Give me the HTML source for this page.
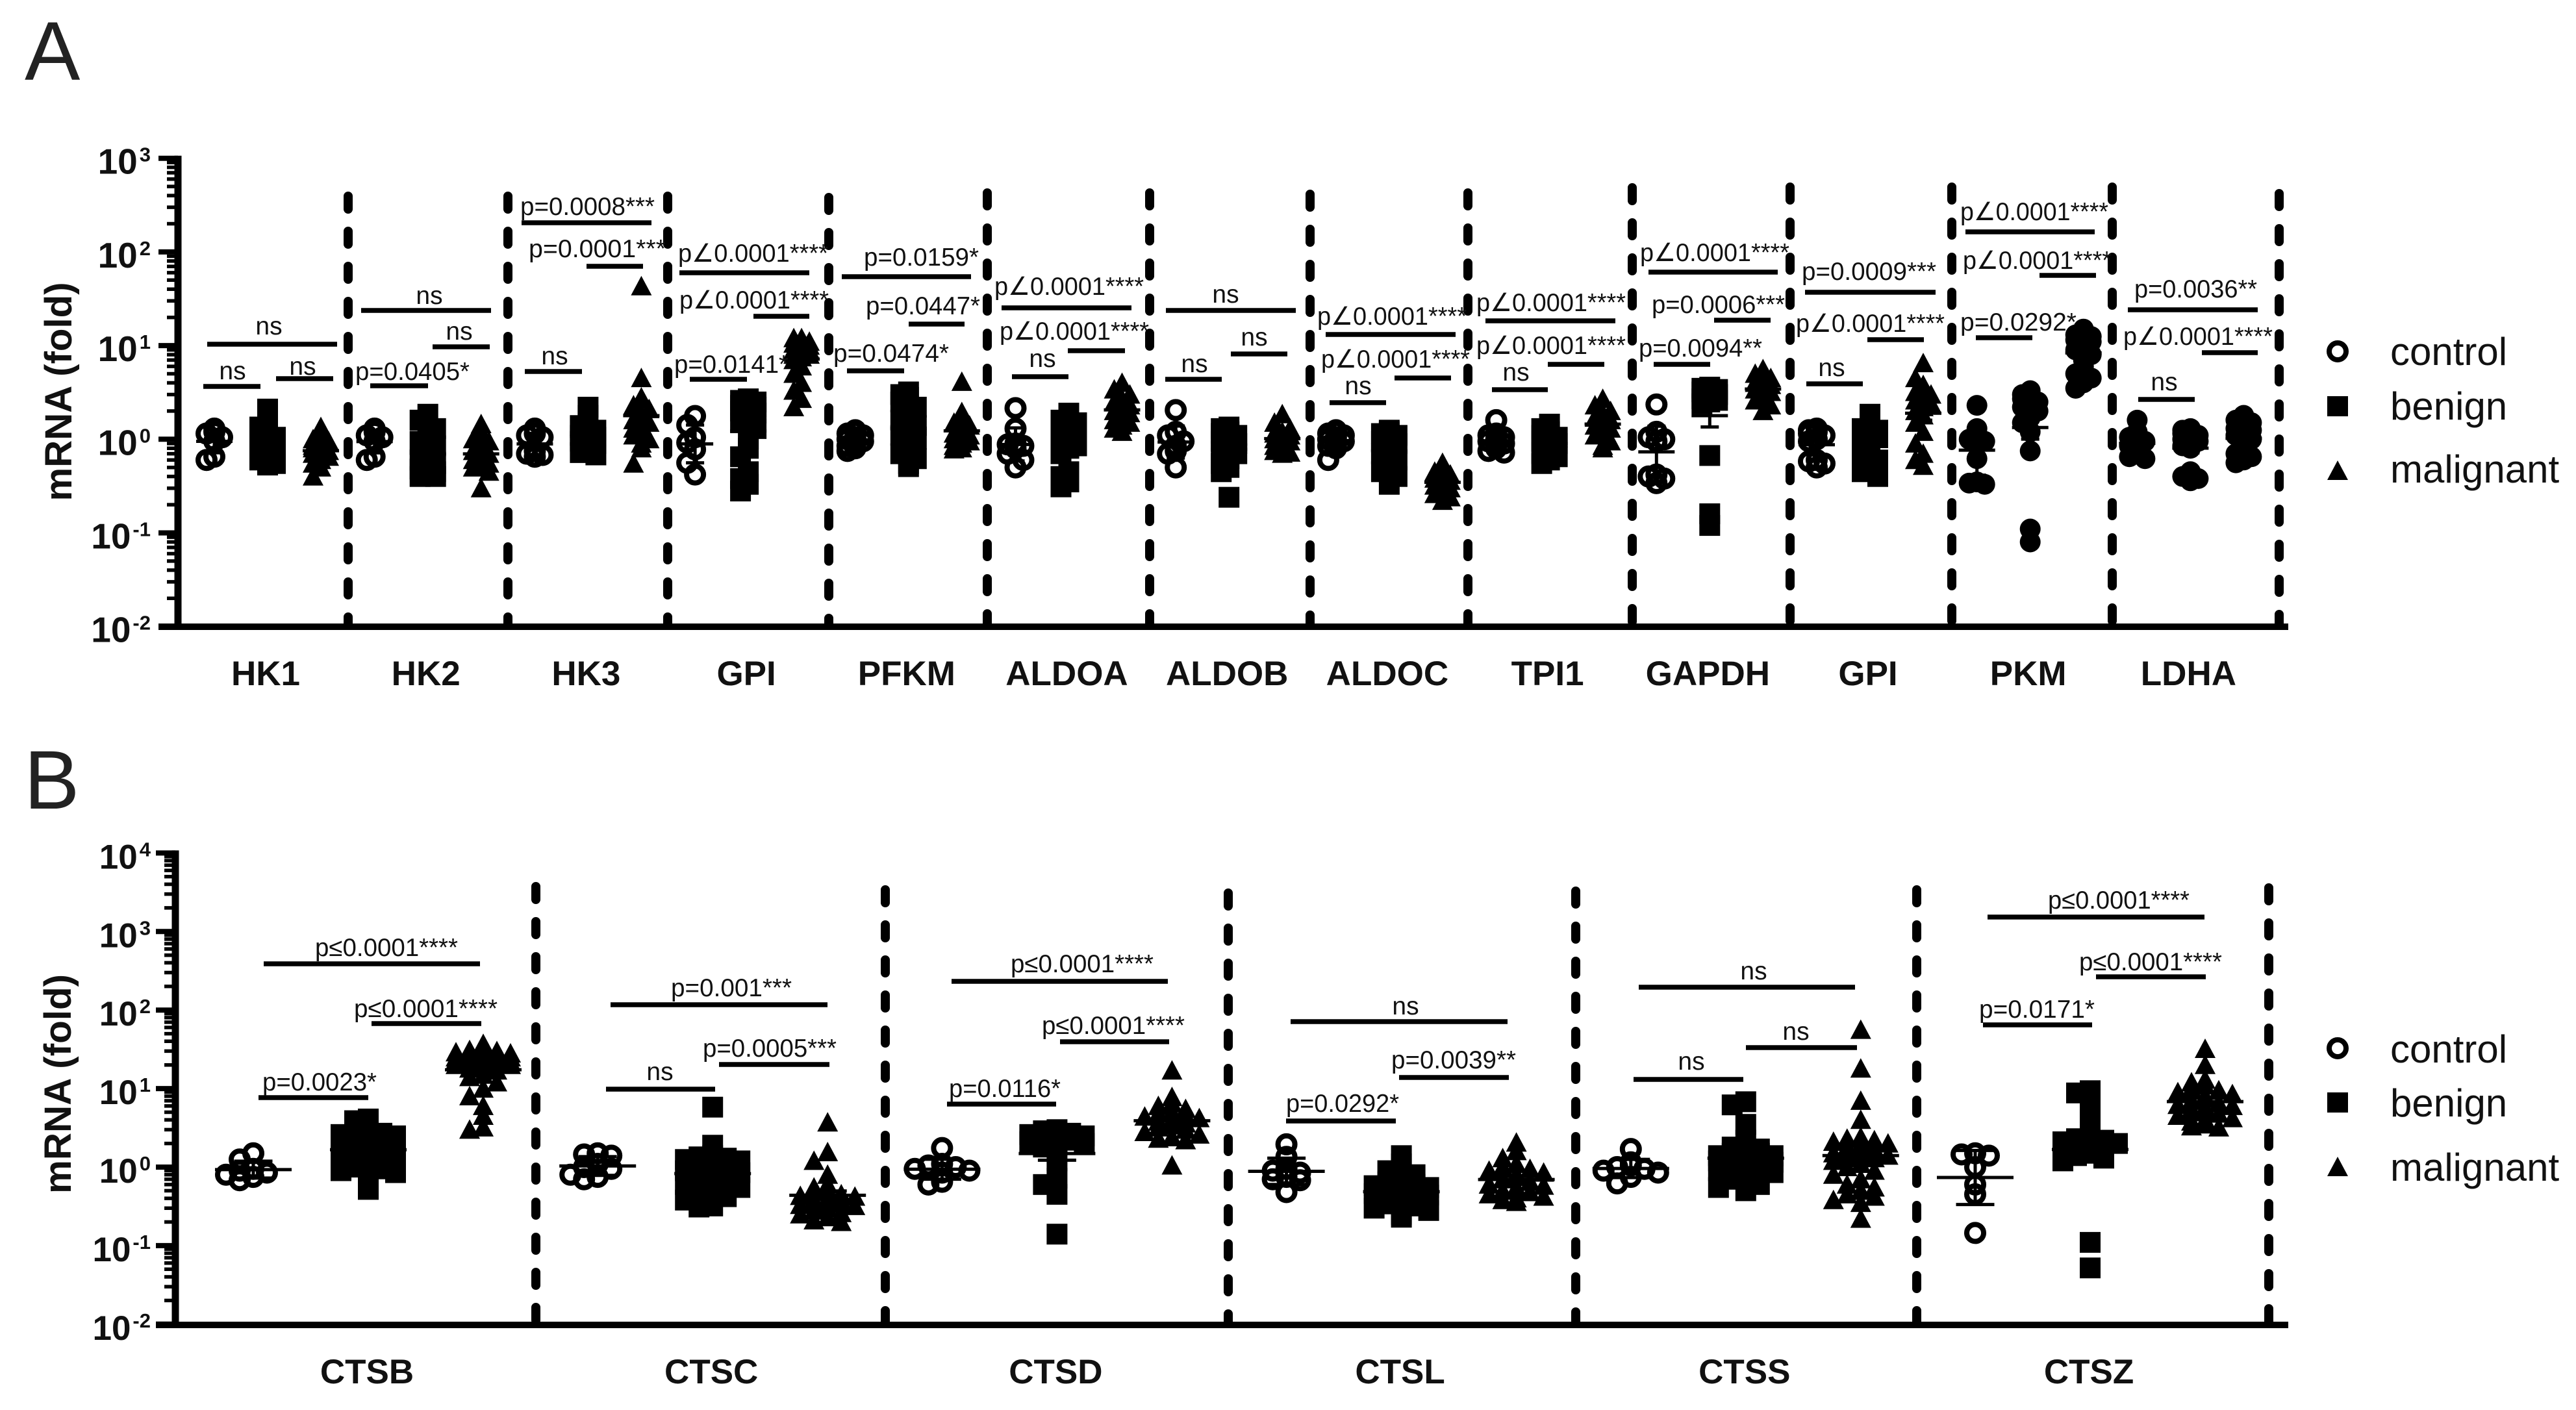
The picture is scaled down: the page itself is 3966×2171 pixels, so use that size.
<!DOCTYPE html>
<html lang="en">
<head>
<meta charset="utf-8">
<title>mRNA fold change: glycolysis genes and cathepsins</title>
<style>
html,body{margin:0;padding:0;background:#fff}
svg{display:block;font-family:"Liberation Sans","DejaVu Sans",sans-serif}
.br{stroke:#000;stroke-width:7.5;fill:none}
.an{font-size:39px;fill:#111}
.mid{text-anchor:middle}
.lg{font-size:60px;fill:#111}
.letter{font-size:128px;fill:#222}
.ytitle{font-size:58px;font-weight:700;fill:#111;text-anchor:middle}
</style>
</head>
<body>
<svg id="figure" width="3966" height="2171" viewBox="0 0 3966 2171" xmlns="http://www.w3.org/2000/svg">
<rect width="3966" height="2171" fill="#fff"/>
<text class="letter" x="38" y="123">A</text>
<text class="letter" x="37" y="1245">B</text>
<text class="ytitle" transform="translate(110,603) rotate(-90)" textLength="337" lengthAdjust="spacingAndGlyphs">mRNA (fold)</text>
<text class="ytitle" transform="translate(109,1669) rotate(-90)" textLength="338" lengthAdjust="spacingAndGlyphs">mRNA (fold)</text>
<g id="panelA"></g>
<g id="panelB"></g>

<g>
<g>
<line class="br" x1="319" x2="519" y1="530" y2="530"/><text class="an mid" x="414" y="515">ns</text>
<line class="br" x1="313" x2="401" y1="595" y2="595"/><text class="an mid" x="358" y="584">ns</text>
<line class="br" x1="425" x2="513" y1="583" y2="583"/><text class="an mid" x="466" y="577">ns</text>
</g>
<g>
<line class="br" x1="556" x2="756" y1="478" y2="478"/><text class="an mid" x="661" y="468">ns</text>
<line class="br" x1="666" x2="754" y1="534" y2="534"/><text class="an mid" x="707" y="523">ns</text>
<line class="br" x1="570" x2="659" y1="594" y2="594"/><text class="an" x="547" y="585" textLength="176" lengthAdjust="spacingAndGlyphs">p=0.0405*</text>
</g>
<g>
<line class="br" x1="803" x2="1003" y1="343" y2="343"/><text class="an" x="801" y="331" textLength="207" lengthAdjust="spacingAndGlyphs">p=0.0008***</text>
<line class="br" x1="903" x2="990" y1="410" y2="410"/><text class="an" x="814" y="396" textLength="211" lengthAdjust="spacingAndGlyphs">p=0.0001***</text>
<line class="br" x1="808" x2="896" y1="572" y2="572"/><text class="an mid" x="854" y="561">ns</text>
</g>
<g>
<line class="br" x1="1046" x2="1246" y1="420" y2="420"/><text class="an" x="1044" y="403" textLength="231" lengthAdjust="spacingAndGlyphs">p∠0.0001****</text>
<line class="br" x1="1160" x2="1246" y1="487" y2="487"/><text class="an" x="1046" y="475" textLength="230" lengthAdjust="spacingAndGlyphs">p∠0.0001****</text>
<line class="br" x1="1062" x2="1150" y1="584" y2="584"/><text class="an" x="1038" y="574" textLength="176" lengthAdjust="spacingAndGlyphs">p=0.0141*</text>
</g>
<g>
<line class="br" x1="1296" x2="1495" y1="426" y2="426"/><text class="an" x="1330" y="409" textLength="177" lengthAdjust="spacingAndGlyphs">p=0.0159*</text>
<line class="br" x1="1399" x2="1485" y1="499" y2="499"/><text class="an" x="1333" y="484" textLength="176" lengthAdjust="spacingAndGlyphs">p=0.0447*</text>
<line class="br" x1="1304" x2="1392" y1="571" y2="571"/><text class="an" x="1283" y="557" textLength="178" lengthAdjust="spacingAndGlyphs">p=0.0474*</text>
</g>
<g>
<line class="br" x1="1542" x2="1742" y1="474" y2="474"/><text class="an" x="1531" y="454" textLength="230" lengthAdjust="spacingAndGlyphs">p∠0.0001****</text>
<line class="br" x1="1644" x2="1732" y1="540" y2="540"/><text class="an" x="1539" y="523" textLength="230" lengthAdjust="spacingAndGlyphs">p∠0.0001****</text>
<line class="br" x1="1558" x2="1645" y1="580" y2="580"/><text class="an mid" x="1605" y="565">ns</text>
</g>
<g>
<line class="br" x1="1795" x2="1995" y1="478" y2="478"/><text class="an mid" x="1887" y="466">ns</text>
<line class="br" x1="1895" x2="1982" y1="545" y2="545"/><text class="an mid" x="1931" y="532">ns</text>
<line class="br" x1="1794" x2="1881" y1="584" y2="584"/><text class="an mid" x="1839" y="573">ns</text>
</g>
<g>
<line class="br" x1="2041" x2="2241" y1="515" y2="515"/><text class="an" x="2028" y="500" textLength="230" lengthAdjust="spacingAndGlyphs">p∠0.0001****</text>
<line class="br" x1="2147" x2="2234" y1="582" y2="582"/><text class="an" x="2034" y="566" textLength="229" lengthAdjust="spacingAndGlyphs">p∠0.0001****</text>
<line class="br" x1="2047" x2="2134" y1="620" y2="620"/><text class="an mid" x="2091" y="607">ns</text>
</g>
<g>
<line class="br" x1="2287" x2="2487" y1="494" y2="494"/><text class="an" x="2273" y="479" textLength="230" lengthAdjust="spacingAndGlyphs">p∠0.0001****</text>
<line class="br" x1="2383" x2="2470" y1="561" y2="561"/><text class="an" x="2273" y="545" textLength="230" lengthAdjust="spacingAndGlyphs">p∠0.0001****</text>
<line class="br" x1="2297" x2="2383" y1="600" y2="600"/><text class="an mid" x="2334" y="586">ns</text>
</g>
<g>
<line class="br" x1="2538" x2="2737" y1="419" y2="419"/><text class="an" x="2525" y="402" textLength="230" lengthAdjust="spacingAndGlyphs">p∠0.0001****</text>
<line class="br" x1="2639" x2="2726" y1="493" y2="493"/><text class="an" x="2543" y="482" textLength="205" lengthAdjust="spacingAndGlyphs">p=0.0006***</text>
<line class="br" x1="2546" x2="2633" y1="561" y2="561"/><text class="an" x="2523" y="549" textLength="190" lengthAdjust="spacingAndGlyphs">p=0.0094**</text>
</g>
<g>
<line class="br" x1="2779" x2="2980" y1="450" y2="450"/><text class="an" x="2774" y="431" textLength="207" lengthAdjust="spacingAndGlyphs">p=0.0009***</text>
<line class="br" x1="2875" x2="2962" y1="523" y2="523"/><text class="an" x="2765" y="511" textLength="229" lengthAdjust="spacingAndGlyphs">p∠0.0001****</text>
<line class="br" x1="2781" x2="2868" y1="591" y2="591"/><text class="an mid" x="2820" y="579">ns</text>
</g>
<g>
<line class="br" x1="3026" x2="3225" y1="357" y2="357"/><text class="an" x="3018" y="339" textLength="228" lengthAdjust="spacingAndGlyphs">p∠0.0001****</text>
<line class="br" x1="3140" x2="3227" y1="424" y2="424"/><text class="an" x="3022" y="414" textLength="229" lengthAdjust="spacingAndGlyphs">p∠0.0001****</text>
<line class="br" x1="3042" x2="3129" y1="520" y2="520"/><text class="an" x="3018" y="509" textLength="179" lengthAdjust="spacingAndGlyphs">p=0.0292*</text>
</g>
<g>
<line class="br" x1="3276" x2="3476" y1="477" y2="477"/><text class="an" x="3286" y="458" textLength="189" lengthAdjust="spacingAndGlyphs">p=0.0036**</text>
<line class="br" x1="3390" x2="3476" y1="543" y2="543"/><text class="an" x="3269" y="531" textLength="230" lengthAdjust="spacingAndGlyphs">p∠0.0001****</text>
<line class="br" x1="3292" x2="3379" y1="615" y2="615"/><text class="an mid" x="3332" y="601">ns</text>
</g>
</g>

<g>
<g>
<line class="br" x1="406" x2="739" y1="1484" y2="1484"/><text class="an" x="485" y="1472" textLength="220" lengthAdjust="spacingAndGlyphs">p≤0.0001****</text>
<line class="br" x1="572" x2="741" y1="1576" y2="1576"/><text class="an" x="545" y="1566" textLength="221" lengthAdjust="spacingAndGlyphs">p≤0.0001****</text>
<line class="br" x1="398" x2="567" y1="1690" y2="1690"/><text class="an" x="404" y="1679" textLength="176" lengthAdjust="spacingAndGlyphs">p=0.0023*</text>
</g>
<g>
<line class="br" x1="940" x2="1274" y1="1547" y2="1547"/><text class="an" x="1033" y="1534" textLength="186" lengthAdjust="spacingAndGlyphs">p=0.001***</text>
<line class="br" x1="1107" x2="1277" y1="1639" y2="1639"/><text class="an" x="1082" y="1627" textLength="206" lengthAdjust="spacingAndGlyphs">p=0.0005***</text>
<line class="br" x1="933" x2="1101" y1="1677" y2="1677"/><text class="an mid" x="1016" y="1663">ns</text>
</g>
<g>
<line class="br" x1="1465" x2="1798" y1="1511" y2="1511"/><text class="an" x="1556" y="1497" textLength="220" lengthAdjust="spacingAndGlyphs">p≤0.0001****</text>
<line class="br" x1="1632" x2="1800" y1="1604" y2="1604"/><text class="an" x="1604" y="1592" textLength="220" lengthAdjust="spacingAndGlyphs">p≤0.0001****</text>
<line class="br" x1="1458" x2="1626" y1="1700" y2="1700"/><text class="an" x="1461" y="1689" textLength="172" lengthAdjust="spacingAndGlyphs">p=0.0116*</text>
</g>
<g>
<line class="br" x1="1987" x2="2321" y1="1573" y2="1573"/><text class="an mid" x="2164" y="1562">ns</text>
<line class="br" x1="2154" x2="2323" y1="1659" y2="1659"/><text class="an" x="2142" y="1645" textLength="192" lengthAdjust="spacingAndGlyphs">p=0.0039**</text>
<line class="br" x1="1980" x2="2149" y1="1726" y2="1726"/><text class="an" x="1980" y="1712" textLength="174" lengthAdjust="spacingAndGlyphs">p=0.0292*</text>
</g>
<g>
<line class="br" x1="2523" x2="2856" y1="1520" y2="1520"/><text class="an mid" x="2700" y="1508">ns</text>
<line class="br" x1="2688" x2="2859" y1="1613" y2="1613"/><text class="an mid" x="2765" y="1601">ns</text>
<line class="br" x1="2515" x2="2684" y1="1662" y2="1662"/><text class="an mid" x="2604" y="1647">ns</text>
</g>
<g>
<line class="br" x1="3060" x2="3394" y1="1412" y2="1412"/><text class="an" x="3153" y="1399" textLength="218" lengthAdjust="spacingAndGlyphs">p≤0.0001****</text>
<line class="br" x1="3227" x2="3396" y1="1504" y2="1504"/><text class="an" x="3201" y="1494" textLength="220" lengthAdjust="spacingAndGlyphs">p≤0.0001****</text>
<line class="br" x1="3053" x2="3221" y1="1578" y2="1578"/><text class="an" x="3047" y="1567" textLength="178" lengthAdjust="spacingAndGlyphs">p=0.0171*</text>
</g>
</g>

<g>
<g><circle cx="3599" cy="541" r="13" fill="none" stroke="#000" stroke-width="8"/><text class="lg" x="3680" y="562">control</text></g>
<g><rect x="3583" y="610" width="32" height="31"/><text class="lg" x="3680" y="646">benign</text></g>
<g><polygon points="3599,709 3615,739 3583,739"/><text class="lg" x="3680" y="743">malignant</text></g>
</g>
<g>
<g><circle cx="3599" cy="1614" r="13" fill="none" stroke="#000" stroke-width="8"/><text class="lg" x="3680" y="1636">control</text></g>
<g><rect x="3583" y="1682" width="32" height="31"/><text class="lg" x="3680" y="1719">benign</text></g>
<g><polygon points="3599,1781 3615,1811 3583,1811"/><text class="lg" x="3680" y="1818">malignant</text></g>
</g>
</svg>

<script>
/* ---- Panel A data: fold values, one sub-array per gene ---- */
const panelAGenes = ['HK1','HK2','HK3','GPI','PFKM','ALDOA','ALDOB','ALDOC','TPI1','GAPDH','GPI','PKM','LDHA'];
const panelATickExponents = [-2,-1,0,1,2,3];
const panelAControl = [
 [1.3,1.2,1.15,1.05,0.95,0.65,0.6],
 [1.3,1.2,1.1,1.05,0.95,0.65,0.6],
 [1.3,1.15,1.1,1.05,0.75,0.7,0.68,0.65],
 [1.77,1.42,1.05,0.92,0.78,0.56,0.42],
 [1.25,1.2,1.15,1.1,1.05,1,0.95,0.9,0.85,0.8,0.75],
 [2.15,1.3,0.9,0.88,0.85,0.8,0.7,0.6,0.5],
 [2.05,1.2,1.1,0.95,0.85,0.75,0.7,0.5],
 [1.25,1.2,1.15,1.1,1.05,1,0.95,0.9,0.85,0.8,0.6],
 [1.6,1.15,1.1,1.05,1,0.95,0.9,0.85,0.8,0.75,0.72],
 [2.35,1.2,1.05,1,0.95,0.42,0.4,0.38,0.34],
 [1.3,1.25,1.2,1.15,1.1,1,0.95,0.6,0.58,0.55,0.5],
 [2.3,1.3,1.1,1,0.95,0.9,0.62,0.35,0.34,0.33],
 [1.6,1.2,1.05,0.95,0.9,0.85,0.7,0.65,0.62]
];
const panelABenign = [
 [2.1,1.7,1.35,1.2,1.1,1.05,1,0.95,0.9,0.85,0.8,0.75,0.7,0.65,0.6,0.55,0.53],
 [1.85,1.6,1.3,1.05,0.95,0.85,0.7,0.6,0.55,0.5,0.48,0.45,0.42,0.4,0.4],
 [2.2,1.8,1.4,1.25,1.15,1.1,1.05,1,0.95,0.9,0.85,0.8,0.72,0.68],
 [2.7,2.6,2.5,2.4,2.3,2.2,2.1,2,1.9,1.7,1.5,1.3,1,0.8,0.65,0.45,0.38,0.33,0.28],
 [3.2,3,2.8,2.5,2.2,2,1.8,1.6,1.4,1.3,1.2,1.1,1,0.9,0.8,0.7,0.62,0.55,0.51],
 [1.9,1.8,1.6,1.5,1.4,1.3,1.2,1.1,1,0.95,0.9,0.85,0.8,0.7,0.45,0.4,0.35,0.31],
 [1.35,1.3,1.2,1.15,1.1,1,0.95,0.9,0.85,0.8,0.75,0.7,0.62,0.55,0.5,0.45,0.24],
 [1.25,1.2,1.15,1.1,1,0.95,0.9,0.85,0.8,0.7,0.6,0.5,0.45,0.4,0.33],
 [1.45,1.3,1.2,1.1,1.05,1,0.95,0.9,0.85,0.8,0.7,0.65,0.6,0.55],
 [3.6,3.5,3.4,3.3,3.2,3,2.9,2.8,2.7,2.6,2.5,2.4,0.67,0.16,0.12],
 [1.85,1.3,1.25,1.2,1.15,1.1,1,0.9,0.8,0.7,0.6,0.55,0.5,0.45,0.4],
 [3.3,3,2.8,2.7,2.5,2.4,2.2,2,1.9,1.7,1.5,1.2,0.75,0.11,0.08],
 [1.3,1.25,1.2,1.15,1.1,1.05,1,0.95,0.9,0.85,0.8,0.45,0.4,0.38,0.36]
];
const panelAMalignant = [
 [1.35,1.1,1,0.95,0.9,0.85,0.8,0.8,0.75,0.7,0.7,0.65,0.6,0.55,0.5,0.4],
 [1.45,1.2,1,0.95,0.85,0.8,0.75,0.7,0.65,0.6,0.55,0.52,0.5,0.45,0.3],
 [43,4.5,2.8,2.3,2.1,1.9,1.7,1.6,1.5,1.4,1.3,1.2,1.1,1,0.9,0.8,0.55],
 [12,12,11,11,10.5,10,10,9.5,9,9,8.5,8,8,7.5,7,6,5,4,3.3,2.7,2.2],
 [4.1,1.95,1.7,1.5,1.4,1.3,1.2,1.15,1.1,1.05,1,0.95,0.9,0.85,0.8,0.78],
 [4,3.4,3,2.7,2.5,2.3,2.2,2,1.9,1.8,1.6,1.5,1.4,1.3,1.2],
 [1.85,1.5,1.3,1.2,1.15,1.1,1.05,1,0.95,0.9,0.85,0.8,0.75,0.72,0.7],
 [0.56,0.5,0.45,0.42,0.4,0.38,0.36,0.34,0.32,0.3,0.28,0.26,0.24,0.22],
 [2.7,2.3,2,1.9,1.8,1.7,1.6,1.5,1.4,1.3,1.2,1.1,0.95,0.85,0.8],
 [5.6,5,4.5,4.2,4,3.8,3.6,3.4,3.2,3,2.8,2.6,2.3,2],
 [6.5,4.5,3.8,3.2,3,2.8,2.6,2.4,2.2,2,1.8,1.5,1.2,0.9,0.7,0.6,0.52],
 [15,14,13,12.5,12,11.5,11,10,9.5,9,8,7,6,5,4.5,4,3.5],
 [1.8,1.6,1.5,1.4,1.3,1.25,1.2,1.1,1,0.9,0.8,0.7,0.65,0.6,0.56]
];

/* ---- Panel B data ---- */
const panelBGenes = ['CTSB','CTSC','CTSD','CTSL','CTSS','CTSZ'];
const panelBTickExponents = [-2,-1,0,1,2,3,4];
const panelBControl = [
 [1.5,1.25,0.95,0.9,0.85,0.8,0.75,0.68],
 [1.5,1.45,1.4,1.1,1,0.95,0.8,0.75,0.7],
 [1.75,1.1,1.05,1,0.95,0.9,0.85,0.65,0.6],
 [1.95,1.35,0.95,0.9,0.85,0.75,0.7,0.68,0.48],
 [1.7,1.15,1.05,1,0.95,0.9,0.85,0.75,0.62],
 [1.5,1.45,1.4,1,0.6,0.45,0.145]
];
const panelBBenign = [
 [4.1,3.9,3,2.8,2.7,2.6,2.5,2.4,2.3,2.2,2,1.9,1.8,1.6,1.5,1.4,1.3,1.2,1.1,1,0.95,0.9,0.85,0.8,0.52],
 [5.8,1.9,1.4,1.35,1.3,1.25,1.2,1.1,1,0.95,0.9,0.85,0.8,0.75,0.7,0.65,0.6,0.55,0.5,0.45,0.42,0.38,0.32,0.31],
 [3,2.9,2.7,2.6,2.5,2.4,2.3,2.2,2.1,2,1.9,1.8,1.2,0.72,0.6,0.45,0.14],
 [1.4,1.1,0.9,0.8,0.7,0.65,0.6,0.58,0.55,0.52,0.5,0.48,0.46,0.44,0.42,0.4,0.38,0.36,0.34,0.32,0.3,0.28,0.25,0.23],
 [6.8,6.2,3.5,2.2,1.8,1.7,1.6,1.5,1.5,1.4,1.4,1.35,1.3,1.25,1.2,1.15,1.1,1,0.95,0.9,0.85,0.8,0.75,0.7,0.6,0.55,0.5],
 [9.4,8.8,5.5,4.3,2.4,2.3,2.2,2.1,2,1.9,1.8,1.7,1.5,1.4,1.3,1.2,0.11,0.052]
];
const panelBMalignant = [
 [37,33,31,30,29,28,27,26,26,25,25,24,24,23,23,22,22,21,21,20,20,19,18,17,15,14,12,10,8,6,4.5,3.2,3],
 [3.7,1.55,1.2,0.8,0.6,0.55,0.5,0.48,0.45,0.43,0.42,0.4,0.38,0.37,0.36,0.35,0.34,0.33,0.32,0.3,0.28,0.26,0.25,0.23,0.21,0.2],
 [17,7.8,6.5,6,5.5,5,4.8,4.6,4.4,4.2,4,3.8,3.6,3.4,3.2,3,2.8,2.6,2.4,2.3,2.2,1.05],
 [2.05,1.6,1.3,1.1,1,0.95,0.9,0.85,0.8,0.75,0.7,0.65,0.6,0.58,0.55,0.52,0.5,0.48,0.45,0.42,0.4,0.38,0.36],
 [56,18,7,4,2.4,2.3,2.2,2.1,2,1.9,1.8,1.7,1.6,1.6,1.5,1.5,1.4,1.4,1.3,1.3,1.2,1.1,1,0.9,0.8,0.7,0.6,0.55,0.5,0.45,0.42,0.38,0.35,0.22],
 [32,20,13,12,11,10,9.5,9,8.5,8,7.5,7,6.5,6.2,6,5.8,5.5,5.2,5,4.8,4.5,4.2,4,3.8,3.5,3.3,3.2]
];

/* Genes drawn with solid round markers in the original figure */
const solidCircleGenes = ['PKM','LDHA'];

const SVGNS = 'http://www.w3.org/2000/svg';
function shape(tag, attrs) {
  const el = document.createElementNS(SVGNS, tag);
  for (const k in attrs) el.setAttribute(k, attrs[k]);
  return el;
}

function drawPanel(cfg) {
  const root = document.getElementById(cfg.rootId);
  const yScale = v => cfg.yZero - cfg.decade * Math.log10(v);
  const xCategory = i => cfg.xFirst + cfg.xStep * i;

  /* separators */
  cfg.sepX.forEach((x, i) => {
    const sep = shape('line', {x1: x, x2: x, y1: cfg.sepTop[i] + 7, y2: cfg.axisY - 2, stroke: '#000', 'stroke-width': 14, 'stroke-linecap': 'round', 'stroke-dasharray': '20 34'});
    
    
    root.appendChild(sep);
  });

  /* y axis ticks */
  const exps = cfg.exponents;
  exps.forEach((e, idx) => {
    const y = yScale(Math.pow(10, e));
    const major = shape('line', {x1: cfg.axisX - cfg.majorLen, x2: cfg.axisX, y1: y, y2: y, stroke: '#000', 'stroke-width': 8});
    
    
    root.appendChild(major);

    const label = shape('text', {x: 232, y: y + 24, 'text-anchor': 'end', 'font-size': cfg.tickFont, 'font-weight': 700, fill: '#111'});
    
    
    const base = shape('tspan', {});
    base.textContent = '10';
    const sup = shape('tspan', {dx: 3, dy: -19, 'font-size': 31});
    sup.textContent = String(e);
    label.appendChild(base);
    label.appendChild(sup);
    root.appendChild(label);

    if (idx < exps.length - 1) {
      for (let m = 2; m <= 9; m++) {
        const ym = yScale(m * Math.pow(10, e));
        const minor = shape('line', {x1: cfg.axisX - cfg.minorLen, x2: cfg.axisX, y1: ym, y2: ym, stroke: '#000', 'stroke-width': 5.5});
        
        
        root.appendChild(minor);
      }
    }
  });

  /* axis lines */
  const yAxis = shape('line', {x1: cfg.axisX, x2: cfg.axisX, y1: yScale(Math.pow(10, exps[exps.length - 1])) - 4, y2: cfg.axisY + 5, stroke: '#000', 'stroke-width': 11});
  
  
  root.appendChild(yAxis);
  const xAxis = shape('line', {x1: cfg.axisX - cfg.majorLen, x2: 3523, y1: cfg.axisY, y2: cfg.axisY, stroke: '#000', 'stroke-width': 10});
  
  
  root.appendChild(xAxis);

  /* series */
  const groups = [
    {key: 'control', values: cfg.control, offset: -cfg.groupOffset},
    {key: 'benign', values: cfg.benign, offset: 0},
    {key: 'malignant', values: cfg.malignant, offset: cfg.groupOffset}
  ];
  cfg.genes.forEach((gene, gi) => {
    const cx = xCategory(gi);
    const catLabel = shape('text', {x: cx + cfg.labelShift, y: cfg.labelY, 'text-anchor': 'middle', 'font-size': 53, 'font-weight': 700, fill: '#111'});
    catLabel.textContent = gene;
    
    
    root.appendChild(catLabel);

    groups.forEach(group => {
      const vals = group.values[gi];
      const gx = cx + group.offset;
      const counts = {};
      const solid = solidCircleGenes.includes(gene);
      vals.forEach(v => {
        const y = yScale(v);
        const bin = Math.round(y / cfg.binHeight);
        counts[bin] = (counts[bin] || 0) + 1;
        const slot = (counts[bin] - 1) % cfg.columns;
        const px = gx + (slot % 2 ? -1 : 1) * Math.ceil(slot / 2) * cfg.swarmStep;
        let mark;
        if (solid) {
          mark = shape('circle', {cx: px, cy: y, r: 16, fill: '#000'});
        } else if (group.key === 'control') {
          mark = shape('circle', {cx: px, cy: y, r: 13, fill: 'none', stroke: '#000', 'stroke-width': 8});
        } else if (group.key === 'benign') {
          mark = shape('rect', {x: px - 16, y: y - 16, width: 32, height: 32, fill: '#000'});
        } else {
          mark = shape('polygon', {points: [px, y - 16, px + 16, y + 14, px - 16, y + 14].join(' '), fill: '#000'});
        }
        
        
        root.appendChild(mark);
      });
      /* mean with whiskers computed in log space so outliers do not dominate */
      const logs = vals.map(v => Math.log10(v));
      const meanLog = logs.reduce((a, b) => a + b, 0) / logs.length;
      const sdLog = Math.sqrt(logs.reduce((a, b) => a + (b - meanLog) * (b - meanLog), 0) / logs.length);
      const spread = group.key === 'control' ? sdLog : sdLog / Math.sqrt(logs.length);
      const top = yScale(Math.pow(10, meanLog + spread));
      const bottom = yScale(Math.pow(10, meanLog - spread));
      const ym = yScale(Math.pow(10, meanLog));
      [[gx - cfg.meanHalf, gx + cfg.meanHalf, ym, ym], [gx - cfg.meanHalf / 2, gx + cfg.meanHalf / 2, top, top], [gx - cfg.meanHalf / 2, gx + cfg.meanHalf / 2, bottom, bottom], [gx, gx, top, bottom]].forEach(seg => {
        const line = shape('line', {x1: seg[0], x2: seg[1], y1: seg[2], y2: seg[3], stroke: '#000', 'stroke-width': 5});
        
        
        root.appendChild(line);
      });
    });
  });
}

drawPanel({
  rootId: 'panelA', genes: panelAGenes, control: panelAControl, benign: panelABenign, malignant: panelAMalignant,
  exponents: panelATickExponents, yZero: 676.3, decade: 144.2, axisX: 274, axisY: 965, majorLen: 30, minorLen: 17,
  tickFont: 55, xFirst: 412, xStep: 246.7, groupOffset: 82, labelShift: -3, labelY: 1055,
  binHeight: 26, columns: 3, swarmStep: 12, meanHalf: 28,
  sepX: [536,782,1028,1276,1520,1770,2017,2260,2513,2756,3005,3252,3509],
  sepTop: [295,295,295,297,290,290,292,290,282,281,281,281,291]
});
drawPanel({
  rootId: 'panelB', genes: panelBGenes, control: panelBControl, benign: panelBBenign, malignant: panelBMalignant,
  exponents: panelBTickExponents, yZero: 1797, decade: 120.9, axisX: 270, axisY: 2040, majorLen: 30, minorLen: 17,
  tickFont: 53, xFirst: 567, xStep: 530.2, groupOffset: 177, labelShift: -2, labelY: 2130,
  binHeight: 20, columns: 5, swarmStep: 21, meanHalf: 59,
  sepX: [825,1363,1891,2426,2951,3493],
  sepTop: [1358,1363,1368,1365,1363,1360]
});
</script>
</body>
</html>
